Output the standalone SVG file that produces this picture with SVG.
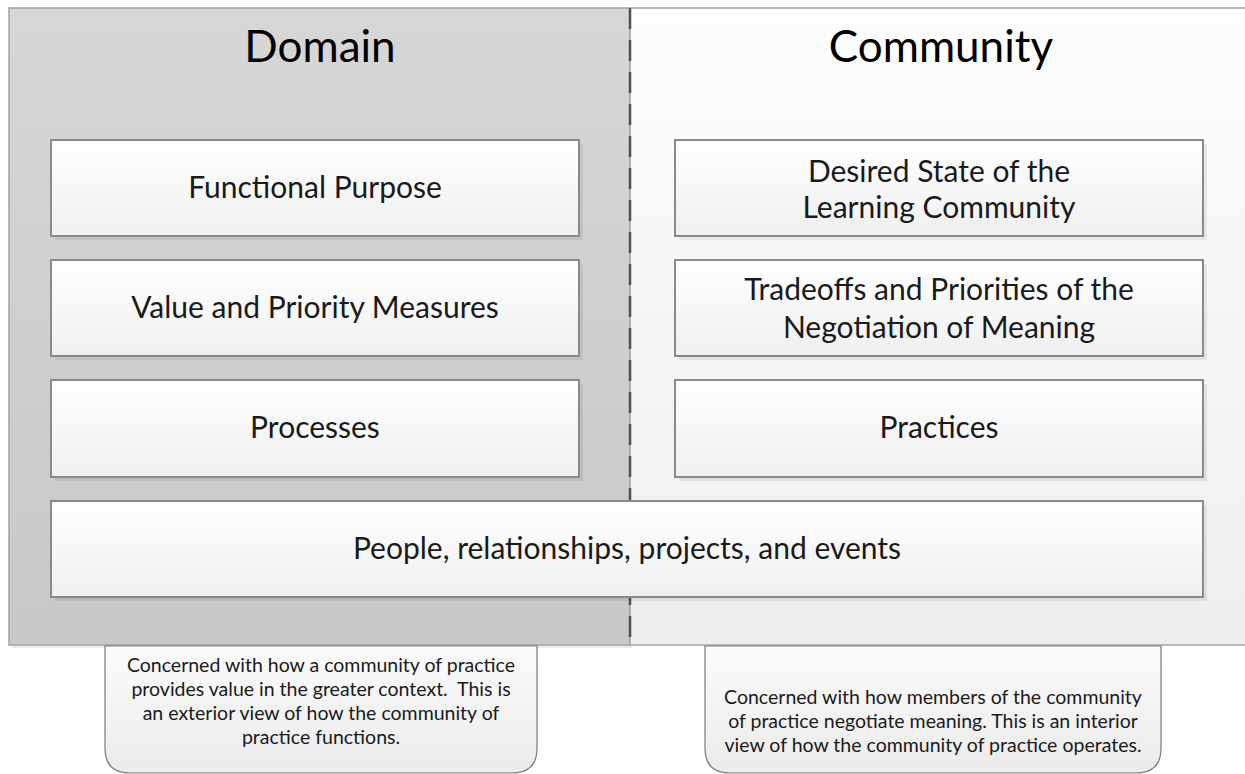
<svg xmlns="http://www.w3.org/2000/svg" width="1245" height="774" viewBox="0 0 1245 774">
<defs>
<linearGradient id="gLeft" x1="0" y1="0" x2="0" y2="1"><stop offset="0" stop-color="#d7d7d7"/><stop offset="1" stop-color="#c8c8c8"/></linearGradient>
<linearGradient id="gRight" x1="0" y1="0" x2="0" y2="1"><stop offset="0" stop-color="#fdfdfd"/><stop offset="1" stop-color="#eeeeee"/></linearGradient>
<linearGradient id="gBox" x1="0" y1="0" x2="0" y2="1"><stop offset="0" stop-color="#ffffff"/><stop offset="1" stop-color="#efefef"/></linearGradient>
<linearGradient id="gCall" x1="0" y1="0" x2="0" y2="1"><stop offset="0" stop-color="#fbfbfb"/><stop offset="1" stop-color="#ebebeb"/></linearGradient>
</defs>
<style>
.panelL{fill:url(#gLeft);stroke:#a3a3a3;stroke-width:1.5}
.panelR{fill:url(#gRight);stroke:#a3a3a3;stroke-width:1.5}
.box{fill:url(#gBox);stroke:#8a8a8a;stroke-width:2}
.shadow{fill:#000;opacity:0.07}
.call{fill:url(#gCall);stroke:#7a7a7a;stroke-width:1.2}
.title{font-family:Lato,"Liberation Sans",sans-serif;font-size:44px;fill:#000;text-anchor:middle}
.lbl{font-family:Lato,"Liberation Sans",sans-serif;font-size:30px;fill:#1a1a1a;text-anchor:middle}
.note{font-family:Lato,"Liberation Sans",sans-serif;font-size:19.5px;fill:#1a1a1a;text-anchor:middle}
.dash{stroke:#505050;stroke-width:2.5;stroke-dasharray:21 11;fill:none}
</style>
<rect width="1245" height="774" fill="#ffffff"/>
<g id="panel-domain">
<rect x="12" y="11" width="620" height="637" class="shadow"/>
<rect x="9" y="8" width="621" height="637" class="panelL"/>
<text x="320" y="62" class="title">Domain</text>
</g>
<g id="panel-community">
<rect x="630" y="8" width="625" height="637" class="panelR"/>
<text x="941" y="62" class="title">Community</text>
</g>
<g id="connectors">
<line x1="630" y1="8" x2="630" y2="645" class="dash"/>
</g>
<g id="node-functional-purpose">
<rect x="55" y="144" width="528" height="96" class="shadow"/>
<rect x="51" y="140" width="528" height="96" class="box"/>
<text x="315" y="198" class="lbl">Functional Purpose</text>
</g>
<g id="node-value-priority">
<rect x="55" y="264" width="528" height="96" class="shadow"/>
<rect x="51" y="260" width="528" height="96" class="box"/>
<text x="315" y="318" class="lbl">Value and Priority Measures</text>
</g>
<g id="node-processes">
<rect x="55" y="384" width="528" height="97" class="shadow"/>
<rect x="51" y="380" width="528" height="97" class="box"/>
<text x="315" y="438" class="lbl">Processes</text>
</g>
<g id="node-desired-state">
<rect x="679" y="144" width="528" height="96" class="shadow"/>
<rect x="675" y="140" width="528" height="96" class="box"/>
<text x="939" y="182" class="lbl">Desired State of the</text>
<text x="939" y="218" class="lbl">Learning Community</text>
</g>
<g id="node-tradeoffs">
<rect x="679" y="264" width="528" height="96" class="shadow"/>
<rect x="675" y="260" width="528" height="96" class="box"/>
<text x="939" y="300" class="lbl">Tradeoffs and Priorities of the</text>
<text x="939" y="338" class="lbl">Negotiation of Meaning</text>
</g>
<g id="node-practices">
<rect x="679" y="384" width="528" height="97" class="shadow"/>
<rect x="675" y="380" width="528" height="97" class="box"/>
<text x="939" y="438" class="lbl">Practices</text>
</g>
<g id="node-people">
<rect x="55" y="505" width="1152" height="96" class="shadow"/>
<rect x="51" y="501" width="1152" height="96" class="box"/>
<text x="627" y="559" class="lbl">People, relationships, projects, and events</text>
</g>
<g id="note-domain">
<path d="M105,646 L537,646 L537,748 Q537,773 512,773 L130,773 Q105,773 105,748 Z" class="call"/>
<text x="321" y="672" class="note">Concerned with how a community of practice</text>
<text x="321" y="696" class="note">provides value in the greater context.&#160; This is</text>
<text x="321" y="720" class="note">an exterior view of how the community of</text>
<text x="321" y="744" class="note">practice functions.</text>
</g>
<g id="note-community">
<path d="M705,646 L1161,646 L1161,748 Q1161,773 1136,773 L730,773 Q705,773 705,748 Z" class="call"/>
<text x="933" y="704" class="note">Concerned with how members of the community</text>
<text x="933" y="728" class="note">of practice negotiate meaning. This is an interior</text>
<text x="933" y="752" class="note">view of how the community of practice operates.</text>
</g>
</svg>
